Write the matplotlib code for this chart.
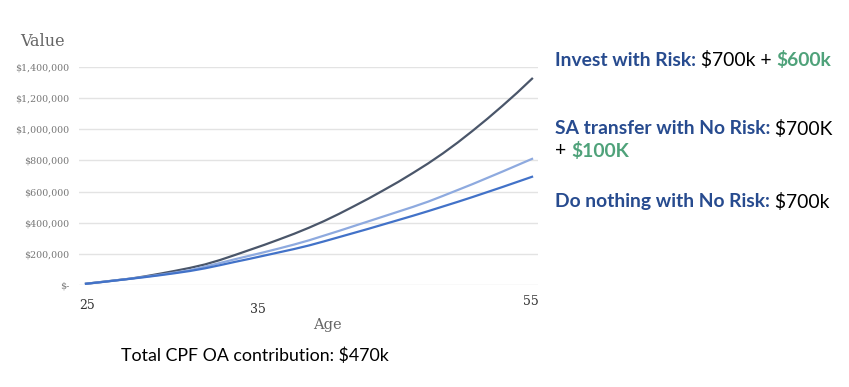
import matplotlib.pyplot as plt
from matplotlib.ticker import FuncFormatter

# data (thousands of $)
ages = list(range(25, 56))
invest_risk = [8, 19, 30, 41, 56, 73, 91, 110, 132, 160, 192, 225, 258, 293, 329, 368,
               410, 456, 505, 555, 608, 662, 720, 780, 845, 915, 990, 1068, 1150, 1235, 1325]
sa_transfer = [8, 19, 30, 41, 53, 66, 80, 95, 118, 141, 165, 188, 211, 235, 260, 287,
               317, 347, 378, 409, 440, 471, 502, 535, 572, 610, 648, 688, 728, 769, 810]
do_nothing = [8, 18, 29, 40, 51, 63, 76, 90, 107, 127, 148, 168, 189, 210, 231, 254,
              280, 307, 334, 361, 389, 417, 445, 474, 504, 534, 565, 597, 629, 662, 695]
yticks = [0, 200000, 400000, 600000, 800000, 1000000, 1200000, 1400000]
age_labels = ['25', '35', '55']

navy = '#274b8f'
green = '#4fa27a'
gray = '#666666'

fig = plt.figure(figsize=(8.49, 3.87), dpi=100)
ax = fig.add_axes([79 / 849, 1 - 285 / 387, (538 - 79) / 849, (285 - 67) / 387])

ax.plot(ages, [v * 1000 for v in invest_risk], color='#4a566a', lw=1.6, clip_on=False)
ax.plot(ages, [v * 1000 for v in sa_transfer], color='#8eaadf', lw=1.6, clip_on=False)
ax.plot(ages, [v * 1000 for v in do_nothing], color='#4272c8', lw=1.6, clip_on=False)

ax.set_xlim(24.53, 55.4)
ax.set_ylim(0, 1400000)
ax.set_yticks(yticks)
ax.yaxis.set_major_formatter(FuncFormatter(lambda v, p: '$-' if v == 0 else '${:,.0f}'.format(v)))
ax.tick_params(axis='y', length=0, pad=7, labelsize=6.8, labelcolor='#777777')
ax.set_xticks([])
for lab in ax.get_yticklabels():
    lab.set_family('DejaVu Serif')
ax.grid(axis='y', color='#e3e3e3', lw=1)
ax.set_axisbelow(True)
for s in ax.spines.values():
    s.set_visible(False)

# age labels sit where the slide author dropped them, not on a regular scale
for lab, xa, dy in zip(age_labels, [25.1, 36.55, 54.9], [-10, -13, -7]):
    ax.annotate(lab, (xa, 0), xytext=(0, dy), textcoords='offset points',
                ha='center', va='top', fontsize=9, family='DejaVu Serif', color='#333333')

fig.text(20 / 849, 1 - 41 / 387, 'Value', fontsize=11.5, family='DejaVu Serif', color=gray, va='center')
fig.text(327 / 849, 1 - 325 / 387, 'Age', fontsize=10.5, family='DejaVu Serif', color=gray,
         va='center', ha='center')
fig.text(121 / 849, 1 - 356 / 387, 'Total CPF OA contribution: $470k', fontsize=12.8,
         family='Lato', color='black', va='center')

renderer = fig.canvas.get_renderer()


def rich_line(x, y, parts):
    # draw pieces of text one after the other on the same line
    for txt, color, weight in parts:
        t = fig.text(x, y, txt, fontsize=13.9, family='Lato', color=color,
                     fontweight=weight, va='center')
        bb = t.get_window_extent(renderer=renderer)
        x += bb.width / fig.bbox.width


rich_line(555 / 849, 1 - 60 / 387, [('Invest with Risk:', navy, 'bold'), (' $700k + ', 'black', 'normal'),
                                    ('$600k', green, 'bold')])
rich_line(555 / 849, 1 - 129 / 387, [('SA transfer with No Risk:', navy, 'bold'), (' $700K', 'black', 'normal')])
rich_line(555 / 849, 1 - 151 / 387, [('+ ', 'black', 'normal'), ('$100K', green, 'bold')])
rich_line(555 / 849, 1 - 202 / 387, [('Do nothing with No Risk:', navy, 'bold'), (' $700k', 'black', 'normal')])

fig.savefig('out.png', dpi=100)
